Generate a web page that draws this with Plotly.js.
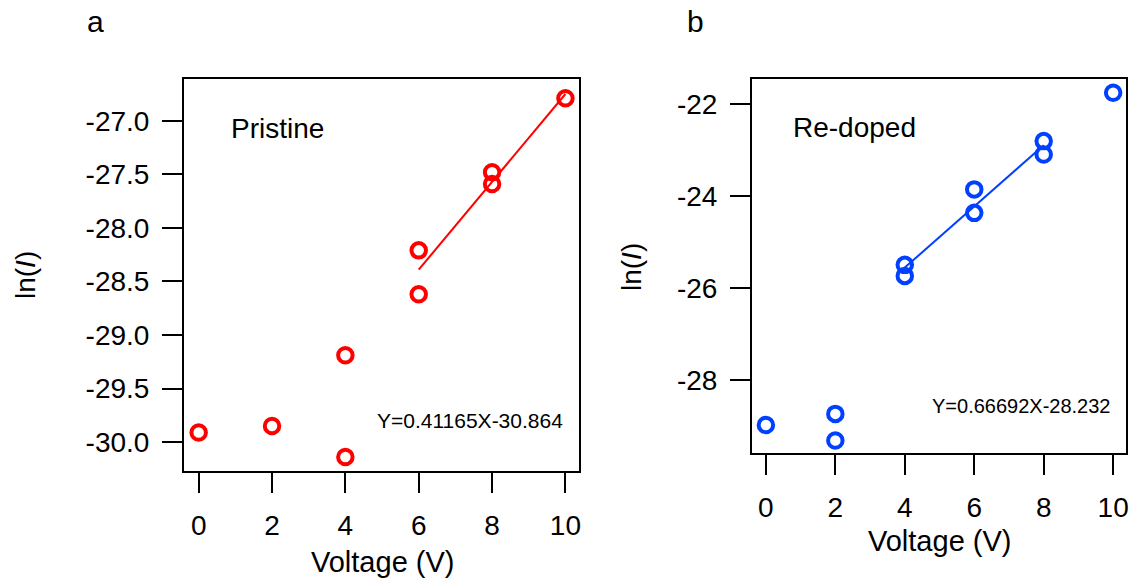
<!DOCTYPE html>
<html>
<head>
<meta charset="utf-8">
<script src="https://cdn.plot.ly/plotly-3.0.1.min.js"></script>
<style>html,body{margin:0;padding:0;background:#fff;}#chart{width:1133px;height:582px;}</style>
</head>
<body>
<div id="chart"></div>
<script>
// Panel a: Pristine
const voltA = [0, 2, 4, 4, 6, 6, 8, 8, 10];
const lnIA = [-29.91, -29.85, -29.19, -30.14, -28.21, -28.62, -27.48, -27.59, -26.79];
const fitXA = [6, 10];
const fitYA = [-28.39, -26.75];
const eqA = "Y=0.41165X-30.864";

// Panel b: Re-doped
const voltB = [0, 2, 2, 4, 4, 6, 6, 8, 8, 10];
const lnIB = [-28.98, -28.74, -29.32, -25.50, -25.74, -23.86, -24.37, -22.81, -23.10, -21.76];
const fitXB = [4, 8];
const fitYB = [-25.56, -22.90];
const eqB = "Y=0.66692X-28.232";

// Ticks
const xTickVals = [0, 2, 4, 6, 8, 10];
const xTickText = ["0", "2", "4", "6", "8", "10"];
const yTickValsA = [-30.0, -29.5, -29.0, -28.5, -28.0, -27.5, -27.0];
const yTickTextA = ["-30.0", "-29.5", "-29.0", "-28.5", "-28.0", "-27.5", "-27.0"];
const yTickValsB = [-28, -26, -24, -22];
const yTickTextB = ["-28", "-26", "-24", "-22"];

const RED = "#ff0000";
const BLUE = "#0040ff";
const FONT = "Arial, 'Liberation Sans', sans-serif";
const W = 1133, H = 582;

const traces = [
  {x: fitXA, y: fitYA, type: "scatter", mode: "lines", line: {color: RED, width: 2}, xaxis: "x", yaxis: "y", showlegend: false},
  {x: voltA, y: lnIA, type: "scatter", mode: "markers",
   marker: {symbol: "circle-open", size: 14.5, color: RED, line: {color: RED, width: 4}}, xaxis: "x", yaxis: "y", showlegend: false},
  {x: fitXB, y: fitYB, type: "scatter", mode: "lines", line: {color: BLUE, width: 2}, xaxis: "x2", yaxis: "y2", showlegend: false},
  {x: voltB, y: lnIB, type: "scatter", mode: "markers",
   marker: {symbol: "circle-open", size: 14.5, color: BLUE, line: {color: BLUE, width: 4}}, xaxis: "x2", yaxis: "y2", showlegend: false}
];

function xAxis(domain, anchor) {
  return {
    domain: domain, anchor: anchor, range: [-0.4, 10.37],
    showline: true, mirror: true, linecolor: "#000", linewidth: 2,
    ticks: "outside", ticklen: 20, tickwidth: 2, tickcolor: "#000",
    tickvals: xTickVals, ticktext: xTickText, ticklabelstandoff: 8,
    tickfont: {family: FONT, size: 28, color: "#000"},
    showgrid: false, zeroline: false, fixedrange: true
  };
}
function yAxis(domain, anchor, range, vals, text) {
  return {
    domain: domain, anchor: anchor, range: range,
    showline: true, mirror: true, linecolor: "#000", linewidth: 2,
    ticks: "outside", ticklen: 20, tickwidth: 2, tickcolor: "#000",
    tickvals: vals, ticktext: text, ticklabelstandoff: 7,
    tickfont: {family: FONT, size: 28, color: "#000"},
    showgrid: false, zeroline: false, fixedrange: true
  };
}

const layout = {
  width: W, height: H,
  margin: {l: 0, r: 0, t: 0, b: 0},
  paper_bgcolor: "#fff", plot_bgcolor: "#fff",
  font: {family: FONT, color: "#000"},
  showlegend: false,
  xaxis: xAxis([184 / W, 579 / W], "y"),
  yaxis: yAxis([1 - 471 / H, 1 - 79 / H], "x", [-30.27, -26.61], yTickValsA, yTickTextA),
  xaxis2: xAxis([752 / W, 1126 / W], "y2"),
  yaxis2: yAxis([1 - 453 / H, 1 - 79 / H], "x2", [-29.59, -21.46], yTickValsB, yTickTextB),
  annotations: [
    {text: "a", xref: "paper", yref: "paper", x: 95 / W, y: 1 - 22 / H, xanchor: "center", yanchor: "middle", showarrow: false, font: {family: FONT, size: 30, color: "#000"}},
    {text: "b", xref: "paper", yref: "paper", x: 695 / W, y: 1 - 22 / H, xanchor: "center", yanchor: "middle", showarrow: false, font: {family: FONT, size: 30, color: "#000"}},
    {text: "Pristine", xref: "x", yref: "y", x: 0.84, y: -27.07, xanchor: "left", yanchor: "middle", showarrow: false, font: {family: FONT, size: 28, color: "#000"}},
    {text: "Re-doped", xref: "x2", yref: "y2", x: 0.71, y: -22.52, xanchor: "left", yanchor: "middle", showarrow: false, font: {family: FONT, size: 28, color: "#000"}},
    {text: eqA, xref: "x", yref: "y", x: 10, y: -29.8, xanchor: "right", yanchor: "middle", showarrow: false, font: {family: FONT, size: 21, color: "#000"}},
    {text: eqB, xref: "x2", yref: "y2", x: 10, y: -28.56, xanchor: "right", yanchor: "middle", showarrow: false, font: {family: FONT, size: 20, color: "#000"}},
    {text: "Voltage (V)", xref: "paper", yref: "paper", x: 382 / W, y: 1 - 562 / H, xanchor: "center", yanchor: "middle", showarrow: false, font: {family: FONT, size: 29, color: "#000"}},
    {text: "Voltage (V)", xref: "paper", yref: "paper", x: 939 / W, y: 1 - 541 / H, xanchor: "center", yanchor: "middle", showarrow: false, font: {family: FONT, size: 29, color: "#000"}},
    {text: "ln(<i>I</i>)", xref: "paper", yref: "paper", x: 25 / W, y: 1 - 275 / H, xanchor: "center", yanchor: "middle", textangle: -90, showarrow: false, font: {family: FONT, size: 28, color: "#000"}},
    {text: "ln(<i>I</i>)", xref: "paper", yref: "paper", x: 632 / W, y: 1 - 267 / H, xanchor: "center", yanchor: "middle", textangle: -90, showarrow: false, font: {family: FONT, size: 28, color: "#000"}}
  ]
};

Plotly.newPlot("chart", traces, layout, {displayModeBar: false, staticPlot: true});
</script>
</body>
</html>
